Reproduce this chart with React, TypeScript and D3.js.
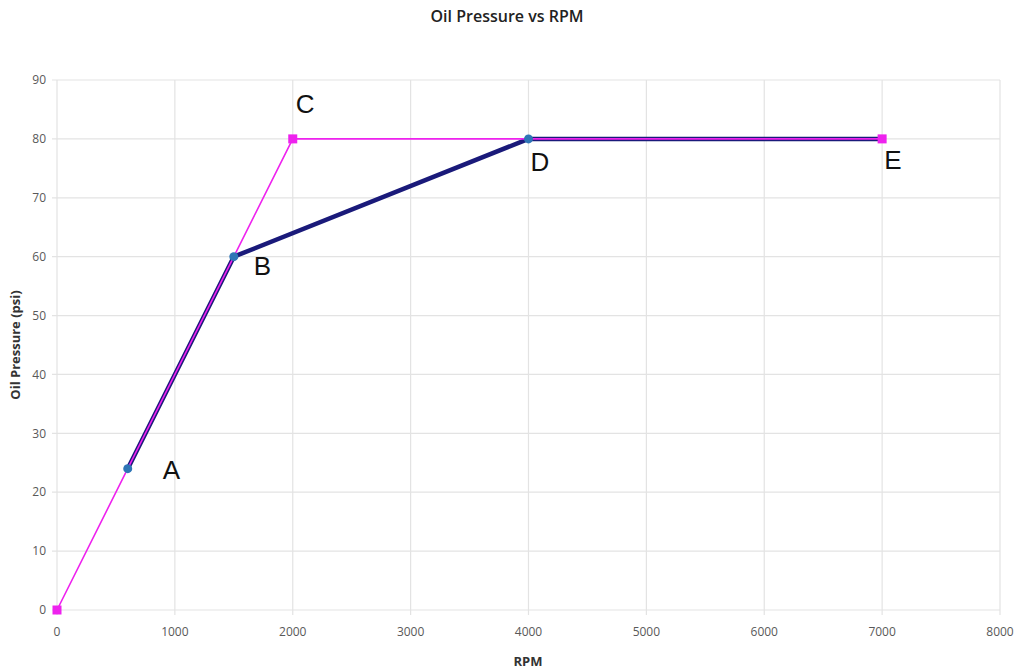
import React from "react";
import * as d3 from "d3";

const xTicks = [0, 1000, 2000, 3000, 4000, 5000, 6000, 7000, 8000];
const yTicks = [0, 10, 20, 30, 40, 50, 60, 70, 80, 90];

const envelopeRPM = [0, 600, 1500, 2000, 4000, 7000];
const envelopePsi = [0, 24, 60, 80, 80, 80];
const envelopeSquares = [0, 3, 5];

const curveRPM = [600, 1500, 4000, 7000];
const curvePsi = [24, 60, 80, 80];
const curveDots = [0, 1, 2];

const pointLabels = ["A", "B", "C", "D", "E"];
const labelRPM = [600, 1500, 2000, 4000, 7000];
const labelPsi = [24, 60, 80, 80, 80];
const labelDx = [35, 20, 3, 2, 2];
const labelDy = [10, 18, -26, 32, 30];

export default function App() {
  const W = 1024, H = 672;
  const x = d3.scaleLinear().domain([0, 8000]).range([57, 1000]);
  const y = d3.scaleLinear().domain([0, 90]).range([610, 80]);
  const line = d3.line<number>();
  const env = envelopeRPM.map((r, i) => [x(r), y(envelopePsi[i])] as [number, number]);
  const cur = curveRPM.map((r, i) => [x(r), y(curvePsi[i])] as [number, number]);
  const sans = "Arial, 'Liberation Sans', sans-serif";
  const tickFont = "'Open Sans', 'Noto Sans', sans-serif";
  return (
    <svg width={W} height={H} style={{ position: "absolute", left: 0, top: 0, background: "#fff" }}>
      <rect width={W} height={H} fill="#fff" />
      {yTicks.map((t) => (
        <line key={"gy" + t} x1={52} x2={1000} y1={y(t)} y2={y(t)} stroke="#e3e3e3" strokeWidth={1.2} />
      ))}
      {xTicks.map((t) => (
        <line key={"gx" + t} x1={x(t)} x2={x(t)} y1={80} y2={615} stroke="#e3e3e3" strokeWidth={1.2} />
      ))}
      {yTicks.map((t) => (
        <text key={"ty" + t} x={46} y={y(t)} dy="0.35em" textAnchor="end" fontSize={12} fill="#595959" fontFamily={tickFont}>
          {t}
        </text>
      ))}
      {xTicks.map((t) => (
        <text key={"tx" + t} x={x(t)} y={636} textAnchor="middle" fontSize={12} fill="#595959" fontFamily={tickFont}>
          {t}
        </text>
      ))}
      <path d={line(cur) || ""} fill="none" stroke="#1a1a7a" strokeWidth={4.5} strokeLinejoin="round" />
      <path d={line(env) || ""} fill="none" stroke="#ee22ee" strokeWidth={1.6} strokeLinejoin="round" />
      {envelopeSquares.map((i) => (
        <rect key={"sq" + i} x={env[i][0] - 4.5} y={env[i][1] - 4.5} width={9} height={9} fill="#ee22ee" />
      ))}
      {curveDots.map((i) => (
        <circle key={"dot" + i} cx={cur[i][0]} cy={cur[i][1]} r={4.5} fill="#2e75b6" />
      ))}
      {pointLabels.map((l, i) => (
        <text key={"pl" + l} x={x(labelRPM[i]) + labelDx[i]} y={y(labelPsi[i]) + labelDy[i]} fontSize={26} fill="#111" fontFamily={sans}>
          {l}
        </text>
      ))}
      <text x={507} y={22} textAnchor="middle" fontSize={16} fontWeight={600} fill="#222" fontFamily={tickFont}>
        Oil Pressure vs RPM
      </text>
      <text x={528} y={666} textAnchor="middle" fontSize={13} fontWeight="bold" fill="#333" fontFamily={tickFont}>
        RPM
      </text>
      <text transform={`translate(20,345) rotate(-90)`} textAnchor="middle" fontSize={13} fontWeight="bold" fill="#333" fontFamily={tickFont}>
        Oil Pressure (psi)
      </text>
    </svg>
  );
}
